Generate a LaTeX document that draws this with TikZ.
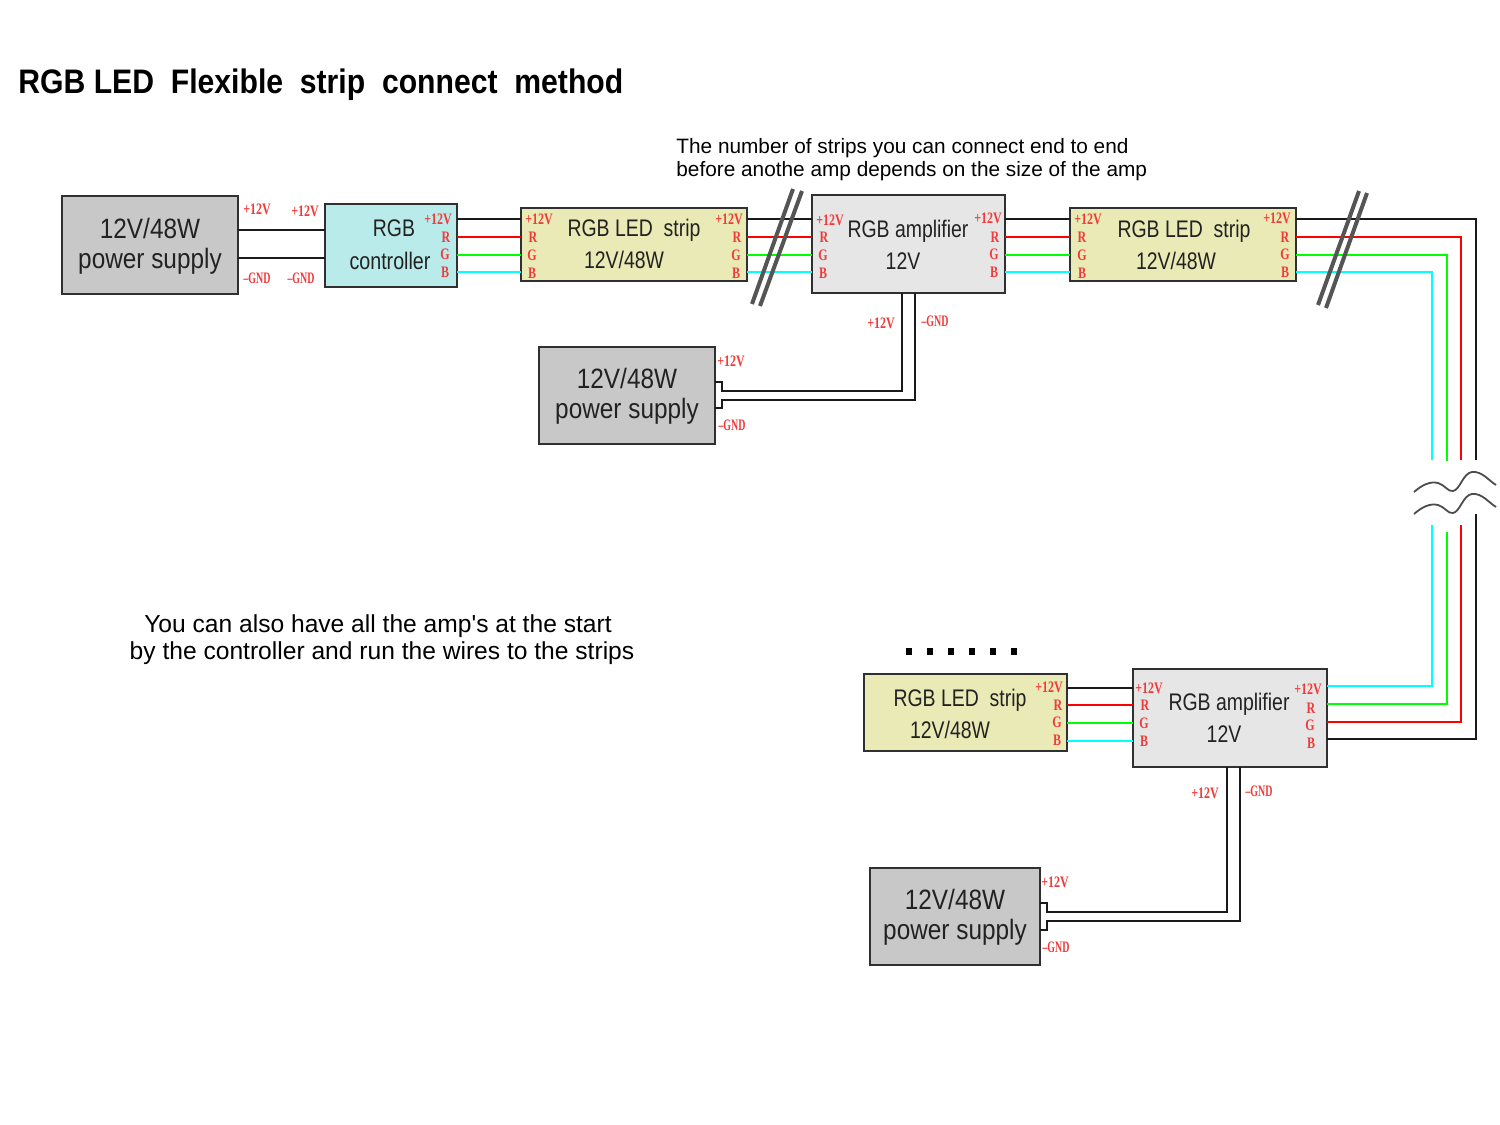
\documentclass[tikz,border=0pt]{standalone}
\usepackage{fontspec}
\setmainfont{Liberation Sans}
\newfontfamily\capf{Liberation Sans}
\newfontfamily\rlfont{Liberation Serif}
\definecolor{rlc}{HTML}{F23A3A}
\newcommand{\rl}[1]{\scalebox{.75}[1]{\fontsize{8}{8}\rlfont\bfseries\color{rlc}#1}}
\newcommand{\rlg}[1]{\scalebox{.62}[1]{\fontsize{8}{8}\rlfont\bfseries\color{rlc}#1}}
\newcommand{\bigt}[1]{\scalebox{.87}[1]{\fontsize{14}{14}\selectfont #1}}
\newcommand{\smt}[2][.81]{\scalebox{#1}[1]{\fontsize{12}{12}\selectfont #2}}
\definecolor{psuc}{HTML}{C8C8C8}
\definecolor{ctrlc}{HTML}{B8EBE9}
\definecolor{stripc}{HTML}{E9EAB5}
\definecolor{ampc}{HTML}{E6E6E6}
\definecolor{edgec}{HTML}{303030}
\definecolor{txtc}{HTML}{222222}
\definecolor{slashc}{HTML}{555555}
\definecolor{wirer}{HTML}{FF0000}
\definecolor{wireg}{HTML}{00FF00}
\definecolor{wirec}{HTML}{00FFFF}
\definecolor{wirek}{HTML}{1A1A1A}
\tikzset{
  x=0.5pt,y=-0.5pt,
  boxn/.style={draw=edgec,line width=1pt,inner sep=0pt,outer sep=0pt},
  psubox/.style={boxn,fill=psuc},
  ctrlbox/.style={boxn,fill=ctrlc},
  stripbox/.style={boxn,fill=stripc},
  ampbox/.style={boxn,fill=ampc},
  txt/.style={inner sep=0pt,text=txtc,anchor=center},
  lab/.style={inner sep=0pt,anchor=center},
  kw/.style={line width=1pt,draw=wirek},
  rw/.style={line width=1pt,draw=wirer},
  gw/.style={line width=1pt,draw=wireg},
  cw/.style={line width=1pt,draw=wirec},
  slash/.style={line width=2pt,draw=slashc},
  wave/.style={line width=.9pt,draw=black!70},
  dotn/.style={fill=black,inner sep=0pt,minimum width=3pt,minimum height=3.5pt},
}
\begin{document}
\begin{tikzpicture}
\useasboundingbox (0,0) rectangle (1500,1125);
\fill[white] (0,0) rectangle (1500,1125);

% boxes
\node[psubox,minimum width=88pt,minimum height=49pt] (psuA) at (150,245) {};
\node[ctrlbox,minimum width=66pt,minimum height=41.5pt] (ctrl) at (391,245.5) {};
\node[stripbox,minimum width=113pt,minimum height=36.5pt] (stripA) at (634,244.5) {};
\node[ampbox,minimum width=96.5pt,minimum height=49pt] (ampA) at (908.5,244) {};
\node[stripbox,minimum width=113pt,minimum height=36.5pt] (stripB) at (1183,244.5) {};
\node[psubox,minimum width=88pt,minimum height=48.5pt] (psuB) at (627,395.5) {};
\node[stripbox,minimum width=101.5pt,minimum height=38.5pt] (stripC) at (965.5,712.5) {};
\node[ampbox,minimum width=97pt,minimum height=49pt] (ampB) at (1230,718) {};
\node[psubox,minimum width=85pt,minimum height=48.5pt] (psuC) at (955,916.5) {};

% free wire ends at the break
\coordinate (kTop) at (1476,460); \coordinate (rTop) at (1461,460);
\coordinate (gTop) at (1447,461); \coordinate (cTop) at (1432,460);
\coordinate (kBot) at (1476,514); \coordinate (rBot) at (1461,525);
\coordinate (gBot) at (1447,532); \coordinate (cBot) at (1432,525);

% connectors, top row
\draw[kw] (psuA.east|-0,230) -- (ctrl.west|-0,230);
\draw[kw] (psuA.east|-0,258) -- (ctrl.west|-0,258);
\foreach \a/\b in {ctrl/stripA,stripA/ampA,ampA/stripB}{
  \draw[kw] (\a.east|-0,219) -- (\b.west|-0,219);
  \draw[rw] (\a.east|-0,237) -- (\b.west|-0,237);
  \draw[gw] (\a.east|-0,255) -- (\b.west|-0,255);
  \draw[cw] (\a.east|-0,272) -- (\b.west|-0,272);
}
% long run down the right
\draw[kw] (stripB.east|-0,219) -| (kTop);
\draw[rw] (stripB.east|-0,237) -| (rTop);
\draw[gw] (stripB.east|-0,255) -| (gTop);
\draw[cw] (stripB.east|-0,272) -| (cTop);
\draw[kw] (kBot) |- (ampB.east|-0,739);
\draw[rw] (rBot) |- (ampB.east|-0,722);
\draw[gw] (gBot) |- (ampB.east|-0,704);
\draw[cw] (cBot) |- (ampB.east|-0,686);
% strip C to amp B
\draw[kw] (stripC.east|-0,688) -- (ampB.west|-0,688);
\draw[rw] (stripC.east|-0,705) -- (ampB.west|-0,705);
\draw[gw] (stripC.east|-0,723) -- (ampB.west|-0,723);
\draw[cw] (stripC.east|-0,741) -- (ampB.west|-0,741);
% supplies
\draw[kw] (ampA.south-|902,0) -- (902,391) -- (722,391) -- (722,381.5) -- (psuB.east|-0,381.5);
\draw[kw] (ampA.south-|915,0) -- (915,400) -- (722,400) -- (722,408) -- (psuB.east|-0,408);
\draw[kw] (ampB.south-|1227,0) -- (1227,912) -- (1047,912) -- (1047,903) -- (psuC.east|-0,903);
\draw[kw] (ampB.south-|1240,0) -- (1240,921) -- (1047,921) -- (1047,930) -- (psuC.east|-0,930);

% cut marks
\draw[slash] (752,304) -- (793,189);
\draw[slash] (760,306) -- (802,191);
\draw[slash] (1318,305) -- (1359,191);
\draw[slash] (1326,308) -- (1367,193);
% waves
\foreach \d in {0,22}{
  \draw[wave,yshift=-\d*0.5pt] (1414,492) .. controls (1422,485) and (1430,481) .. (1438,483)
    .. controls (1445,485) and (1448,492) .. (1453,491)
    .. controls (1460,490) and (1463,473) .. (1472,472)
    .. controls (1482,471) and (1488,480) .. (1496,485);
}
% dots
\foreach \x [count=\i] in {909,930,951,972,993,1014}
  \node[dotn] (dot\i) at (\x,651) {};

% box texts
\node[txt] (tA1) at (150,228) {\bigt{12V/48W}};
\node[txt] (tA2) at (150,261) {\bigt{power supply}};
\node[txt] (tB1) at (627,378) {\bigt{12V/48W}};
\node[txt] (tB2) at (627,411) {\bigt{power supply}};
\node[txt] (tC1) at (955,899) {\bigt{12V/48W}};
\node[txt] (tC2) at (955,932) {\bigt{power supply}};
\node[txt] (tD1) at (394,228) {\smt{RGB}};
\node[txt] (tD2) at (390,261) {\smt[.82]{controller}};
\node[txt] (tE1) at (634,230) {\smt{RGB LED\ \ strip}};
\node[txt] (tE2) at (624,260) {\smt{12V/48W}};
\node[txt] (tF1) at (908,231) {\smt{RGB amplifier}};
\node[txt] (tF2) at (903,261) {\smt{12V}};
\node[txt] (tG1) at (1184,231) {\smt{RGB LED\ \ strip}};
\node[txt] (tG2) at (1176,261) {\smt{12V/48W}};
\node[txt] (tH1) at (960,700) {\smt{RGB LED\ \ strip}};
\node[txt] (tH2) at (950,730) {\smt{12V/48W}};
\node[txt] (tI1) at (1229,704) {\smt{RGB amplifier}};
\node[txt] (tI2) at (1224,734) {\smt{12V}};

% red terminal labels
\foreach \x/\y/\t [count=\i] in {
 257/209/+12V,305/211/+12V,438/219/+12V,446/237/R,445/254/G,445/272/B,
 539/219/+12V,533/237/R,532/255/G,532/273/B,729/219/+12V,737/237/R,736/255/G,736/273/B,
 830/220/+12V,824/237/R,823/255/G,823/273/B,988/218/+12V,995/237/R,994/254/G,994/272/B,
 1088/219/+12V,1082/237/R,1082/255/G,1082/273/B,1277/218/+12V,1285/237/R,1285/254/G,1285/272/B,
 881/323/+12V,731/361/+12V,
 1049/687/+12V,1058/705/R,1057/722/G,1057/740/B,
 1149/688/+12V,1145/705/R,1144/723/G,1144/741/B,
 1308/689/+12V,1311/708/R,1310/725/G,1311/743/B,
 1205/793/+12V,1055/882/+12V}
  \node[lab] (lbl\i) at (\x,\y) {\rl{\t}};
\foreach \x/\y [count=\i] in {257/278,301/278,935/321,732/425,1259/791,1056/947}
  \node[lab] (gnd\i) at (\x,\y) {\rlg{–GND}};

% captions
\node[inner sep=0pt,anchor=west] (title) at (18,85) {\scalebox{.887}[1]{\fontsize{17}{17}\selectfont\bfseries RGB LED\ \ Flexible\ \ strip\ \ connect\ \ method}};
\node[inner sep=0pt,anchor=west] (capA) at (676,148) {\fontsize{10.4}{10.4}\capf The number of strips you can connect end to end};
\node[inner sep=0pt,anchor=west] (capB) at (676,171) {\fontsize{10.4}{10.4}\capf before anothe amp depends on the size of the amp};
\node[inner sep=0pt] (capC) at (378,626) {\fontsize{12.3}{12.3}\capf You can also have all the amp's at the start};
\node[inner sep=0pt] (capD) at (382,653) {\fontsize{12.3}{12.3}\capf by the controller and run the wires to the strips};
\end{tikzpicture}
\end{document}
